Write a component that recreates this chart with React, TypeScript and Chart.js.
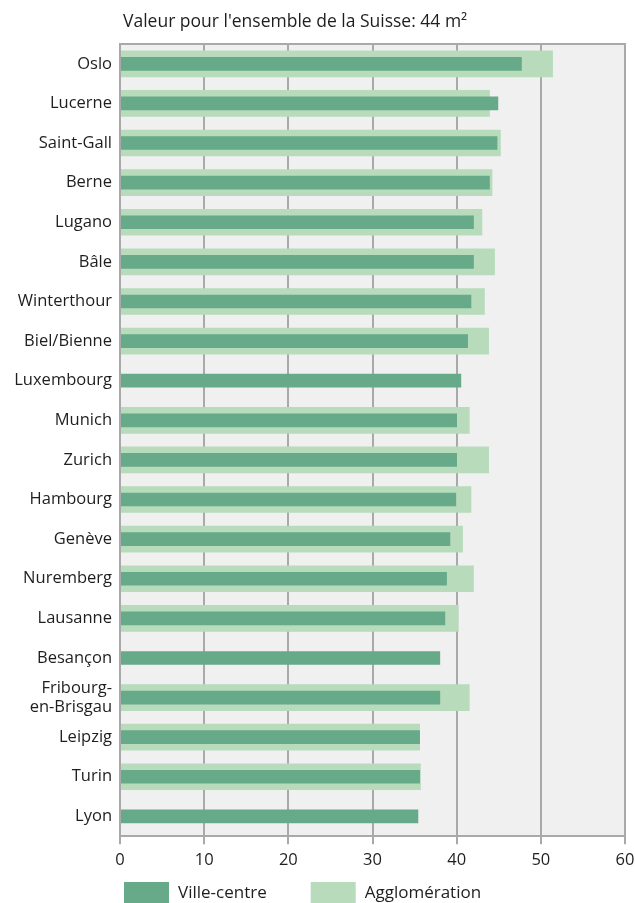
import React, { useEffect, useRef } from 'react';
import { Chart, registerables } from 'chart.js';

Chart.register(...registerables);

const categories: (string | string[])[] = [
  'Oslo', 'Lucerne', 'Saint-Gall', 'Berne', 'Lugano', 'Bâle', 'Winterthour',
  'Biel/Bienne', 'Luxembourg', 'Munich', 'Zurich', 'Hambourg', 'Genève',
  'Nuremberg', 'Lausanne', 'Besançon', ['Fribourg-', 'en-Brisgau'], 'Leipzig', 'Turin', 'Lyon',
];

const villeCentre: (number | null)[] = [
  47.7, 44.9, 44.8, 43.9, 42.0, 42.0, 41.7, 41.3, 40.5, 40.0,
  40.0, 39.9, 39.2, 38.8, 38.6, 38.0, 38.0, 35.6, 35.6, 35.4,
];

const agglomeration: (number | null)[] = [
  51.4, 43.9, 45.2, 44.2, 43.0, 44.5, 43.3, 43.8, null, 41.5,
  43.8, 41.7, 40.7, 42.0, 40.2, null, 41.5, 35.6, 35.7, null,
];

const xTicks = [0, 10, 20, 30, 40, 50, 60];
const titleText = "Valeur pour l'ensemble de la Suisse: 44 m²";
const seriesLabels = ['Ville-centre', 'Agglomération'];

const FONT = '"Open Sans", Lato, sans-serif';
const TEXT = '#1e1e1e';
const GRID = '#a9a9a9';
const C_VILLE = '#66aa8a';
const C_AGGLO = '#b7dbbb';

const framePlugin = {
  id: 'frame',
  afterLayout(chart: any) {
    if (chart.titleBlock) {
      chart.titleBlock.left = chart.chartArea.left + 3;
    }
  },
  beforeDraw(chart: any) {
    const { ctx, chartArea } = chart;
    ctx.save();
    ctx.fillStyle = '#f0f0f0';
    ctx.fillRect(chartArea.left, chartArea.top, chartArea.right - chartArea.left, chartArea.bottom - chartArea.top);
    ctx.restore();
  },
  beforeDatasetsDraw(chart: any) {
    const { ctx, chartArea } = chart;
    ctx.save();
    ctx.strokeStyle = GRID;
    ctx.lineWidth = 2;
    ctx.beginPath();
    ctx.moveTo(chartArea.left, chartArea.top);
    ctx.lineTo(chartArea.right, chartArea.top);
    ctx.lineTo(chartArea.right, chartArea.bottom);
    ctx.stroke();
    ctx.restore();
  },
  afterDraw(chart: any) {
    const { ctx, chartArea } = chart;
    const boxW = 45;
    const boxH = 21;
    const y = chart.height - boxH;
    let x = chartArea.left + 4;
    ctx.save();
    ctx.font = `17px ${FONT}`;
    ctx.textBaseline = 'middle';
    ctx.textAlign = 'left';
    chart.data.datasets.forEach((ds: any) => {
      ctx.fillStyle = ds.backgroundColor;
      ctx.fillRect(x, y, boxW, boxH);
      ctx.fillStyle = TEXT;
      const tx = x + boxW + 9;
      ctx.fillText(ds.label, tx, y + boxH / 2 + 1);
      x = tx + ctx.measureText(ds.label).width + 44;
    });
    ctx.restore();
  },
};

export default function App() {
  const ref = useRef<HTMLCanvasElement | null>(null);

  useEffect(() => {
    if (!ref.current) return;
    const chart = new Chart(ref.current, {
      type: 'bar',
      data: {
        labels: categories as any,
        datasets: [
          {
            label: seriesLabels[0],
            data: villeCentre,
            backgroundColor: C_VILLE,
            barThickness: 13,
            grouped: false,
          } as any,
          {
            label: seriesLabels[1],
            data: agglomeration,
            backgroundColor: C_AGGLO,
            barThickness: 26,
            grouped: false,
          } as any,
        ],
      },
      options: {
        indexAxis: 'y',
        animation: false,
        responsive: true,
        maintainAspectRatio: false,
        layout: { padding: { left: 0, right: 10, top: 0, bottom: 27 } },
        plugins: {
          legend: { display: false },
          tooltip: { enabled: false },
          title: {
            display: true,
            text: titleText,
            align: 'start',
            color: TEXT,
            font: { family: FONT, size: 17.5, weight: 'normal', lineHeight: 1.2 },
            padding: { top: 12, bottom: 11 },
          },
        },
        scales: {
          x: {
            type: 'linear',
            min: 0,
            max: 60,
            afterBuildTicks: (s: any) => {
              s.ticks = xTicks.map((v) => ({ value: v }));
            },
            afterFit: (s: any) => {
              s.paddingRight = 10;
            },
            grid: { color: GRID, lineWidth: 2, tickLength: 8, drawTicks: true, tickColor: GRID },
            border: { display: true, color: GRID, width: 2 },
            ticks: { color: TEXT, font: { family: FONT, size: 16.5, lineHeight: 1.2 }, padding: 6, maxRotation: 0 },
          },
          y: {
            afterFit: (s: any) => {
              s.width = 120;
            },
            grid: { display: false, drawTicks: false },
            border: { display: true, color: GRID, width: 2, z: 1 },
            ticks: {
              autoSkip: false,
              color: TEXT,
              font: { family: FONT, size: 16.5, lineHeight: 1.15 },
              padding: 8,
            },
          },
        },
      } as any,
      plugins: [framePlugin],
    });
    return () => chart.destroy();
  }, []);

  return (
    <div style={{ position: 'absolute', left: 0, top: 0, width: 635, height: 903 }}>
      <canvas ref={ref} />
    </div>
  );
}
